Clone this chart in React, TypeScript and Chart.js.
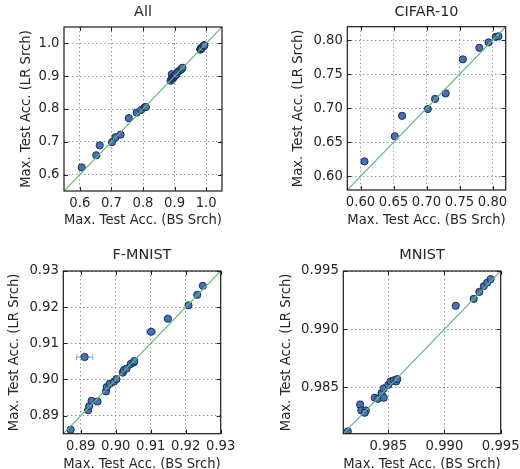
import React, { useEffect, useRef } from "react";
import { Chart, registerables } from "chart.js";

Chart.register(...registerables);

// ---------------- data ----------------
const CIFAR_X = [0.606, 0.652, 0.663, 0.702, 0.713, 0.729, 0.755, 0.78, 0.794, 0.805, 0.809];
const CIFAR_Y = [0.622, 0.659, 0.689, 0.699, 0.714, 0.722, 0.772, 0.789, 0.797, 0.805, 0.806];
const CIFAR_XERR = [0.003, 0.003, 0.004, 0.003, 0.003, 0.002, 0.004, 0.003, 0.003, 0.003, 0.003];
const CIFAR_YERR = [0.002, 0.002, 0.002, 0.002, 0.002, 0.002, 0.003, 0.002, 0.002, 0.002, 0.002];

const FMNIST_X = [0.8871, 0.8911, 0.8921, 0.8924, 0.8931, 0.8948, 0.8972, 0.8974, 0.8983, 0.8995, 0.9002, 0.902, 0.9023, 0.9031, 0.9043, 0.9051, 0.9053, 0.9101, 0.9149, 0.9208, 0.9233, 0.9249];
const FMNIST_Y = [0.8861, 0.9062, 0.8915, 0.8926, 0.8941, 0.8939, 0.8967, 0.8979, 0.8988, 0.8994, 0.9001, 0.9019, 0.9026, 0.903, 0.9043, 0.9047, 0.9051, 0.9132, 0.9168, 0.9205, 0.9234, 0.9259];
const FMNIST_XERR = [0.0006, 0.0023, 0.0006, 0.0006, 0.0007, 0.0006, 0.0006, 0.0007, 0.0006, 0.0006, 0.0006, 0.0006, 0.0006, 0.0007, 0.0006, 0.0006, 0.0006, 0.0012, 0.0006, 0.0006, 0.0005, 0.0005];
const FMNIST_YERR = [0.0004, 0.0004, 0.0005, 0.0004, 0.0005, 0.0004, 0.0005, 0.0004, 0.0004, 0.0004, 0.0004, 0.0004, 0.0004, 0.0004, 0.0004, 0.0004, 0.0004, 0.0005, 0.0004, 0.0004, 0.0004, 0.0004];

const MNIST_X = [0.9814, 0.9825, 0.9826, 0.983, 0.9829, 0.9838, 0.9841, 0.9844, 0.9846, 0.9846, 0.985, 0.9852, 0.9855, 0.9857, 0.9858, 0.991, 0.9926, 0.9931, 0.9935, 0.9938, 0.9941];
const MNIST_Y = [0.9812, 0.9835, 0.983, 0.983, 0.9828, 0.9841, 0.984, 0.9845, 0.9841, 0.9849, 0.9852, 0.9855, 0.9856, 0.9855, 0.9857, 0.992, 0.9926, 0.9932, 0.9937, 0.994, 0.9943];
const MNIST_XERR = [0.0002, 0.0002, 0.0002, 0.0002, 0.0002, 0.0002, 0.0002, 0.0002, 0.0002, 0.0002, 0.0002, 0.0002, 0.0002, 0.0002, 0.0002, 0.0002, 0.0001, 0.0001, 0.0001, 0.0001, 0.0001];
const MNIST_YERR = [0.0002, 0.0003, 0.0002, 0.0002, 0.0002, 0.0002, 0.0002, 0.0002, 0.0002, 0.0002, 0.0002, 0.0002, 0.0002, 0.0002, 0.0002, 0.0002, 0.0001, 0.0001, 0.0001, 0.0001, 0.0001];

const ALL_X = [...CIFAR_X, ...FMNIST_X, ...MNIST_X];
const ALL_Y = [...CIFAR_Y, ...FMNIST_Y, ...MNIST_Y];
const ALL_XERR = [...CIFAR_XERR, ...FMNIST_XERR, ...MNIST_XERR];
const ALL_YERR = [...CIFAR_YERR, ...FMNIST_YERR, ...MNIST_YERR];

const ALL_RANGE = [0.55, 1.05];
const CIFAR_RANGE = [0.58, 0.82];
const FMNIST_RANGE = [0.885, 0.93];
const MNIST_RANGE = [0.981, 0.995];

const ALL_TICKS = [0.6, 0.7, 0.8, 0.9, 1.0];
const CIFAR_TICKS = [0.6, 0.65, 0.7, 0.75, 0.8];
const FMNIST_TICKS = [0.89, 0.9, 0.91, 0.92, 0.93];
const MNIST_TICKS = [0.985, 0.99, 0.995];

const TITLES = ["All", "CIFAR-10", "F-MNIST", "MNIST"];
const X_LABEL = "Max. Test Acc. (BS Srch)";
const Y_LABEL = "Max. Test Acc. (LR Srch)";

// ---------------- style ----------------
const FONT = "DejaVu Sans";
const TEXT = "#262626";
const TICK_SIZE = 13.2;
const TITLE_SIZE = 14.4;

type Panel = {
  title: string;
  xs: number[];
  ys: number[];
  xerr: number[];
  yerr: number[];
  range: number[];
  ticks: number[];
  dec: number;
  cx: number;
  cy: number;
  cw: number;
  ch: number;
  area: { l: number; r: number; t: number; b: number };
  titleY: number;
  xTitleY: number;
  yTitleX: number;
};

const PANELS: Panel[] = [
  {
    title: TITLES[0], xs: ALL_X, ys: ALL_Y, xerr: ALL_XERR, yerr: ALL_YERR,
    range: ALL_RANGE, ticks: ALL_TICKS, dec: 1,
    cx: 0, cy: 0, cw: 260, ch: 235,
    area: { l: 64, r: 222, t: 27, b: 191 },
    titleY: 12.7, xTitleY: 221, yTitleX: 26.7,
  },
  {
    title: TITLES[1], xs: CIFAR_X, ys: CIFAR_Y, xerr: CIFAR_XERR, yerr: CIFAR_YERR,
    range: CIFAR_RANGE, ticks: CIFAR_TICKS, dec: 2,
    cx: 260, cy: 0, cw: 260, ch: 235,
    area: { l: 87.3, r: 245.7, t: 26.7, b: 190 },
    titleY: 11.9, xTitleY: 221, yTitleX: 39,
  },
  {
    title: TITLES[2], xs: FMNIST_X, ys: FMNIST_Y, xerr: FMNIST_XERR, yerr: FMNIST_YERR,
    range: FMNIST_RANGE, ticks: FMNIST_TICKS, dec: 2,
    cx: 0, cy: 235, cw: 260, ch: 234,
    area: { l: 63.3, r: 220.7, t: 36, b: 198.7 },
    titleY: 20.7, xTitleY: 229.5, yTitleX: 15,
  },
  {
    title: TITLES[3], xs: MNIST_X, ys: MNIST_Y, xerr: MNIST_XERR, yerr: MNIST_YERR,
    range: MNIST_RANGE, ticks: MNIST_TICKS, dec: 3,
    cx: 260, cy: 235, cw: 260, ch: 234,
    area: { l: 83.3, r: 240.7, t: 36, b: 198.7 },
    titleY: 20.7, xTitleY: 229.5, yTitleX: 26.7,
  },
];

const decorPlugin = {
  id: "decor",
  beforeDatasetsDraw(chart: any, _args: any, opts: any) {
    const { ctx } = chart;
    const xs = chart.scales.x;
    const ys = chart.scales.y;
    const ds = chart.data.datasets[1];
    const xerr: number[] = opts.xerr || [];
    const yerr: number[] = opts.yerr || [];
    ctx.save();
    ctx.beginPath();
    ctx.rect(chart.chartArea.left, chart.chartArea.top, chart.chartArea.right - chart.chartArea.left, chart.chartArea.bottom - chart.chartArea.top);
    ctx.clip();
    ctx.strokeStyle = "rgba(120,150,210,0.75)";
    ctx.lineWidth = 1.2;
    const cap = 3;
    ds.data.forEach((p: any, i: number) => {
      const px = xs.getPixelForValue(p.x);
      const py = ys.getPixelForValue(p.y);
      const x0 = xs.getPixelForValue(p.x - (xerr[i] || 0));
      const x1 = xs.getPixelForValue(p.x + (xerr[i] || 0));
      const y0 = ys.getPixelForValue(p.y - (yerr[i] || 0));
      const y1 = ys.getPixelForValue(p.y + (yerr[i] || 0));
      ctx.beginPath();
      ctx.moveTo(x0, py);
      ctx.lineTo(x1, py);
      ctx.moveTo(x0, py - cap);
      ctx.lineTo(x0, py + cap);
      ctx.moveTo(x1, py - cap);
      ctx.lineTo(x1, py + cap);
      ctx.moveTo(px, y0);
      ctx.lineTo(px, y1);
      ctx.moveTo(px - cap, y0);
      ctx.lineTo(px + cap, y0);
      ctx.moveTo(px - cap, y1);
      ctx.lineTo(px + cap, y1);
      ctx.stroke();
    });
    ctx.restore();
  },
  afterDraw(chart: any) {
    const { ctx, chartArea } = chart;
    const { left, right, top, bottom } = chartArea;
    const xs = chart.scales.x;
    const ys = chart.scales.y;
    ctx.save();
    ctx.strokeStyle = "#222";
    ctx.lineWidth = 1;
    const tl = 4;
    ctx.beginPath();
    xs.ticks.forEach((t: any) => {
      const x = Math.round(xs.getPixelForValue(t.value)) + 0.5;
      ctx.moveTo(x, bottom);
      ctx.lineTo(x, bottom - tl);
      ctx.moveTo(x, top);
      ctx.lineTo(x, top + tl);
    });
    ys.ticks.forEach((t: any) => {
      const y = Math.round(ys.getPixelForValue(t.value)) + 0.5;
      ctx.moveTo(left, y);
      ctx.lineTo(left + tl, y);
      ctx.moveTo(right, y);
      ctx.lineTo(right - tl, y);
    });
    ctx.stroke();
    ctx.lineWidth = 1.2;
    ctx.strokeStyle = "#1a1a1a";
    ctx.strokeRect(left, top, right - left, bottom - top);
    ctx.restore();
  },
};

function PanelChart({ p }: { p: Panel }) {
  const ref = useRef<HTMLCanvasElement | null>(null);
  useEffect(() => {
    if (!ref.current) return;
    const tickFont = { family: FONT, size: TICK_SIZE };
    const lhTick = TICK_SIZE * 1.2;
    const lhTitle = TITLE_SIZE * 1.2;
    const titleTop = p.titleY - lhTitle / 2;
    const titleBottom = p.area.t - lhTitle - titleTop;
    const xTitleBottom = p.ch - p.xTitleY - lhTick / 2;
    const yTitleTop = p.yTitleX - lhTick / 2;
    const chart = new Chart(ref.current, {
      type: "scatter",
      data: {
        datasets: [
          {
            label: "diag",
            data: [
              { x: p.range[0], y: p.range[0] },
              { x: p.range[1], y: p.range[1] },
            ],
            showLine: true,
            borderColor: "#62b872",
            borderWidth: 1.2,
            pointRadius: 0,
            pointHoverRadius: 0,
            fill: false,
          },
          {
            label: p.title,
            data: p.xs.map((x, i) => ({ x, y: p.ys[i] })),
            pointRadius: 3.6,
            pointBackgroundColor: "#4570b4",
            pointBorderColor: "#1c2f5a",
            pointBorderWidth: 1,
            backgroundColor: "#4570b4",
            borderColor: "#1c2f5a",
          },
        ],
      },
      options: {
        animation: false,
        responsive: false,
        events: [],
        layout: {
          padding: { left: 0, top: 0, bottom: 0, right: p.cw - p.area.r },
        },
        plugins: {
          legend: { display: false },
          tooltip: { enabled: false },
          title: {
            display: true,
            text: p.title,
            fullSize: false,
            color: TEXT,
            font: { family: FONT, size: TITLE_SIZE, weight: "normal" },
            padding: { top: titleTop, bottom: titleBottom },
          },
          decor: { xerr: p.xerr, yerr: p.yerr },
        } as any,
        scales: {
          x: {
            type: "linear",
            min: p.range[0],
            max: p.range[1],
            afterBuildTicks: (ax: any) => {
              ax.ticks = p.ticks.map((v) => ({ value: v }));
            },
            afterFit: (ax: any) => {
              ax.height = p.ch - p.area.b;
              ax.paddingLeft = 0;
              ax.paddingRight = 0;
            },
            ticks: {
              font: tickFont,
              color: TEXT,
              padding: 5,
              autoSkip: false,
              maxRotation: 0,
              callback: (v: any) => Number(v).toFixed(p.dec),
            },
            grid: { color: "#9a9a9a", lineWidth: 1, drawTicks: false },
            border: { display: false, dash: [1.5, 2.5] },
            title: {
              display: true,
              text: X_LABEL,
              color: TEXT,
              font: tickFont,
              padding: { top: 0, bottom: xTitleBottom },
            },
          },
          y: {
            type: "linear",
            min: p.range[0],
            max: p.range[1],
            afterBuildTicks: (ax: any) => {
              ax.ticks = p.ticks.map((v) => ({ value: v }));
            },
            afterFit: (ax: any) => {
              ax.width = p.area.l;
              ax.paddingTop = 0;
              ax.paddingBottom = 0;
            },
            ticks: {
              font: tickFont,
              color: TEXT,
              padding: 4.5,
              autoSkip: false,
              callback: (v: any) => Number(v).toFixed(p.dec),
            },
            grid: { color: "#9a9a9a", lineWidth: 1, drawTicks: false },
            border: { display: false, dash: [1.5, 2.5] },
            title: {
              display: true,
              text: Y_LABEL,
              color: TEXT,
              font: tickFont,
              padding: { top: yTitleTop, bottom: 0 },
            },
          },
        },
      } as any,
      plugins: [decorPlugin],
    });
    return () => chart.destroy();
  }, [p]);
  return (
    <div style={{ position: "absolute", left: p.cx, top: p.cy, width: p.cw, height: p.ch }}>
      <canvas ref={ref} width={p.cw} height={p.ch} style={{ display: "block" }} />
    </div>
  );
}

export default function App() {
  return (
    <div style={{ position: "absolute", left: 0, top: 0, width: 520, height: 469, background: "#ffffff" }}>
      {PANELS.map((p) => (
        <PanelChart key={p.title} p={p} />
      ))}
    </div>
  );
}
